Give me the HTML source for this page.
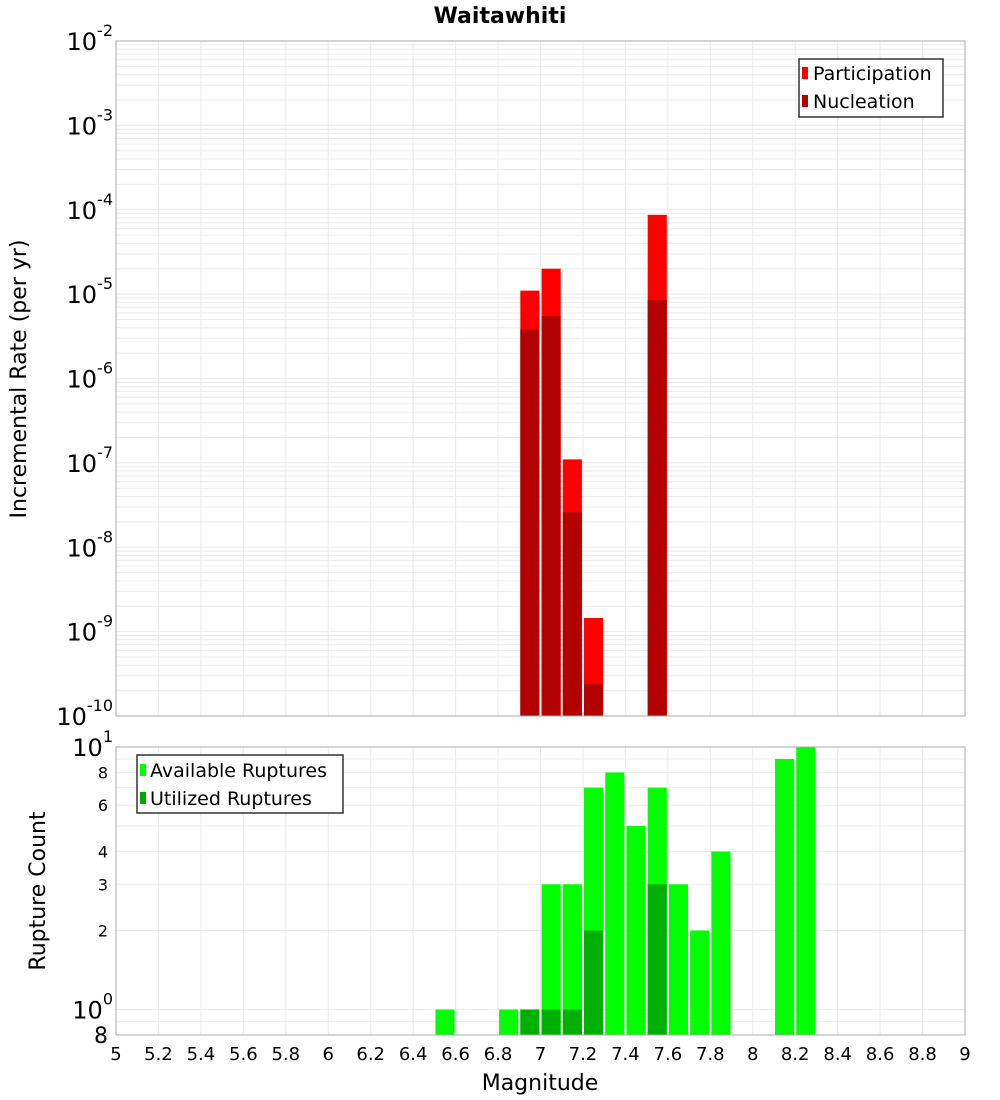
<!DOCTYPE html>
<html><head><meta charset="utf-8"><style>
body{margin:0;background:#fff}
svg{display:block;font-family:"DejaVu Sans","Liberation Sans",sans-serif}
</style></head><body>
<svg id="c" width="1000" height="1100" xmlns="http://www.w3.org/2000/svg">
<text x="500" y="23" text-anchor="middle" font-size="22" font-weight="bold">Waitawhiti</text>
<g id="topPanel"></g>
<g id="botPanel"></g>
<text transform="translate(26,379) rotate(-90)" text-anchor="middle" font-size="22">Incremental Rate (per yr)</text>
<text transform="translate(45,891) rotate(-90)" text-anchor="middle" font-size="22">Rupture Count</text>
<text x="540" y="1090" text-anchor="middle" font-size="22">Magnitude</text>
<g>
<rect x="799" y="59" width="144" height="58" fill="#fff" stroke="#333" stroke-width="1.5"/>
<rect x="802" y="67" width="6" height="12" fill="#ff0000"/>
<text x="813" y="80" font-size="19">Participation</text>
<rect x="802" y="95" width="6" height="12" fill="#b30000"/>
<text x="813" y="108" font-size="19">Nucleation</text>
</g>
<g>
<rect x="137" y="755" width="206" height="58" fill="#fff" stroke="#333" stroke-width="1.5"/>
<rect x="140" y="764" width="6" height="12" fill="#00ff00"/>
<text x="150" y="777" font-size="19">Available Ruptures</text>
<rect x="140" y="792" width="6" height="12" fill="#00a800"/>
<text x="150" y="805" font-size="19">Utilized Ruptures</text>
</g>
</svg>
<script>
const mags=[6.95,7.05,7.15,7.25,7.55];
const participation=[1.1e-5,2.0e-5,1.1e-7,1.45e-9,8.7e-5];
const nucleation=[3.8e-6,5.5e-6,2.6e-8,2.4e-10,8.5e-6];
const countMags=[6.55,6.85,6.95,7.05,7.15,7.25,7.35,7.45,7.55,7.65,7.75,7.85,8.15,8.25];
const available=[1,1,1,3,3,7,8,5,7,3,2,4,9,10];
const utilized=[0,0,1,1,1,2,0,0,3,0,0,0,0,0];
const xTicks=[5,5.2,5.4,5.6,5.8,6,6.2,6.4,6.6,6.8,7,7.2,7.4,7.6,7.8,8,8.2,8.4,8.6,8.8,9];
const rateExps=[-2,-3,-4,-5,-6,-7,-8,-9,-10];
const countTicks=[8,6,4,3,2];

const NS="http://www.w3.org/2000/svg";
const X0=116,X1=965,T0=41,T1=716,B0=747,B1=1035;
const xs=m=>X0+(m-5)/4*(X1-X0);
const yTop=v=>T0+(-2-Math.log10(v))/8*(T1-T0);
const bMin=Math.log10(0.8),bMax=1;
const yBot=v=>B1-(Math.log10(v)-bMin)/(bMax-bMin)*(B1-B0);
function el(p,t,a){const e=document.createElementNS(NS,t);for(const k in a)e.setAttribute(k,a[k]);p.appendChild(e);return e;}
const topG=document.getElementById('topPanel'),botG=document.getElementById('botPanel');
[[topG,T0,T1],[botG,B0,B1]].forEach(([g,a,b])=>{
  el(g,'rect',{x:X0,y:a,width:X1-X0,height:b-a,fill:'#fff',stroke:'none'});
  xTicks.forEach(t=>{const l=el(g,'line',{x1:xs(t),x2:xs(t),y1:a,y2:b,stroke:'#ebebeb'});
  
  });
});
for(let e=-10;e<-2;e++)for(let k=1;k<10;k++){const y=yTop(k*Math.pow(10,e));
  const l=el(topG,'line',{x1:X0,x2:X1,y1:y,y2:y,stroke:'#ebebeb'});
  
  }
[0.8,0.9,1,2,3,4,5,6,7,8,9,10].forEach(v=>{const y=yBot(v);
  const l=el(botG,'line',{x1:X0,x2:X1,y1:y,y2:y,stroke:'#ebebeb'});
  
  });
const bw=0.09*(X1-X0)/4;
mags.forEach((m,i)=>{
  let y=yTop(participation[i]);
  let r=el(topG,'rect',{x:xs(m)-bw/2,y:y,width:bw,height:T1-y,fill:'#ff0000'});
  
  
  y=yTop(nucleation[i]);
  r=el(topG,'rect',{x:xs(m)-bw/2,y:y,width:bw,height:T1-y,fill:'#b30000'});
  
  
});
countMags.forEach((m,i)=>{
  let y=yBot(available[i]);
  let r=el(botG,'rect',{x:xs(m)-bw/2,y:y,width:bw,height:B1-y,fill:'#00ff00'});
  
  
  if(utilized[i]>0){y=yBot(utilized[i]);
  r=el(botG,'rect',{x:xs(m)-bw/2,y:y,width:bw,height:B1-y,fill:'#00b000'});
  
  }
});
[[topG,T0,T1],[botG,B0,B1]].forEach(([g,a,b])=>el(g,'rect',{x:X0,y:a,width:X1-X0,height:b-a,fill:'none',stroke:'#aaa'}));
xTicks.forEach(t=>{const s=el(botG,'text',{x:xs(t),y:1060,'text-anchor':'middle','font-size':18});s.textContent=String(t);
  
  });
function pow(g,y,e){const s=el(g,'text',{x:113,y:y+9,'text-anchor':'end','font-size':24});
  
  
  s.textContent='10';const sp=el(s,'tspan',{'font-size':16,dy:-14});sp.textContent=String(e);}
rateExps.forEach(e=>pow(topG,yTop(Math.pow(10,e)),e));
pow(botG,yBot(10),1);pow(botG,yBot(1),0);
countTicks.forEach(v=>{const s=el(botG,'text',{x:108,y:yBot(v)+6,'text-anchor':'end','font-size':16});s.textContent=String(v);
  
  });
const s8=el(botG,'text',{x:108,y:yBot(0.8)+8,'text-anchor':'end','font-size':22});s8.textContent='8';


</script>
</body></html>
